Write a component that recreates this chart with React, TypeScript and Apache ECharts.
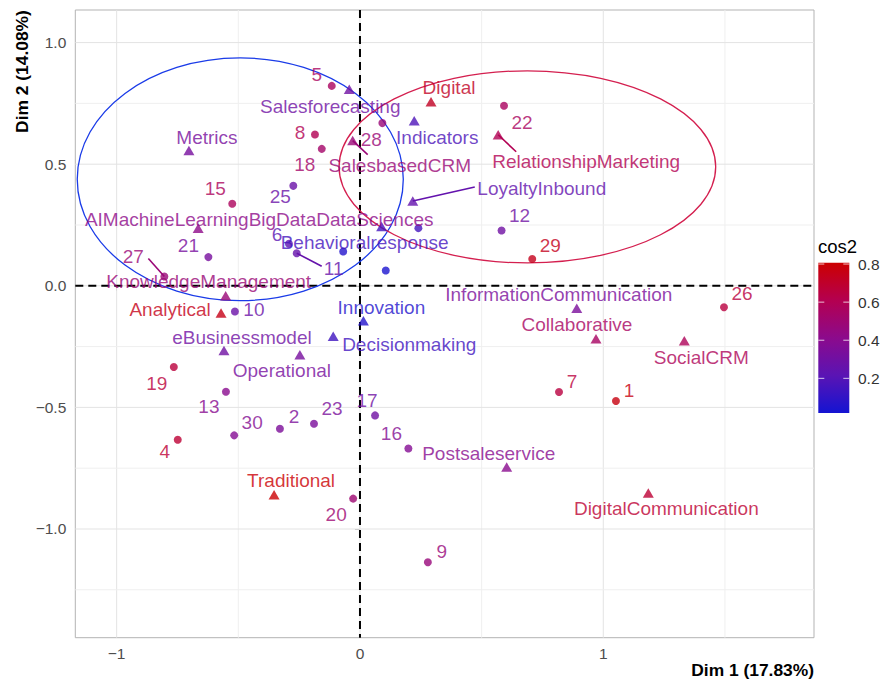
import React, { useEffect, useRef } from 'react';
import * as echarts from 'echarts';

// ---------- data ----------
const X_TICKS = [-1, 0, 1];
const Y_TICKS = [-1.0, -0.5, 0.0, 0.5, 1.0];
const X_GRID = [-1, -0.5, 0, 0.5, 1, 1.5];
const Y_GRID = [-1.25, -1, -0.75, -0.5, -0.25, 0, 0.25, 0.5, 0.75, 1];
const X_MIN = -1.17;
const X_MAX = 1.866;
const Y_MIN = -1.447;
const Y_MAX = 1.134;
const REF_X = [0];
const REF_Y = [0];

const indNames = ['1', '2', '3', '4', '5', '6', '7', '8', '9', '10', '11', '12', '13', '14', '15', '16', '17', '18', '19', '20', '21', '22', '23', '24', '25', '26', '27', '28', '29', '30'];
const indX = [1.052, -0.329, 0.240, -0.749, -0.116, -0.292, 0.818, -0.185, 0.279, -0.514, -0.260, 0.582, -0.551, -0.069, -0.525, 0.199, 0.062, -0.157, -0.765, -0.028, -0.623, 0.592, -0.189, 0.106, -0.274, 1.496, -0.804, 0.092, 0.708, -0.517];
const indY = [-0.474, -0.588, 0.237, -0.633, 0.822, 0.173, -0.437, 0.622, -1.137, -0.106, 0.134, 0.227, -0.436, 0.141, 0.337, -0.669, -0.533, 0.563, -0.334, -0.875, 0.118, 0.740, -0.567, 0.063, 0.411, -0.088, 0.038, 0.669, 0.110, -0.615];
const indCos2 = [0.77, 0.35, 0.15, 0.68, 0.56, 0.22, 0.65, 0.6, 0.47, 0.28, 0.26, 0.3, 0.4, 0.06, 0.57, 0.38, 0.3, 0.53, 0.66, 0.5, 0.33, 0.56, 0.34, 0.04, 0.28, 0.65, 0.48, 0.48, 0.74, 0.38];
const UNLABELED = ['3', '14', '24'];

const varNames = ['Salesforecasting', 'SalesbasedCRM', 'Metrics', 'Digital', 'Indicators', 'RelationshipMarketing', 'LoyaltyInbound', 'AIMachineLearningBigDataDataSciences', 'Behavioralresponse', 'KnowledgeManagement', 'Analytical', 'Innovation', 'Decisionmaking', 'eBusinessmodel', 'Operational', 'InformationCommunication', 'Collaborative', 'SocialCRM', 'Postsaleservice', 'Traditional', 'DigitalCommunication'];
const varX = [-0.044, -0.030, -0.703, 0.292, 0.223, 0.568, 0.217, -0.665, 0.089, -0.552, -0.571, 0.014, -0.110, -0.559, -0.247, 0.891, 0.970, 1.333, 0.603, -0.353, 1.185];
const varY = [0.808, 0.597, 0.556, 0.757, 0.679, 0.621, 0.349, 0.237, 0.244, -0.041, -0.112, -0.144, -0.208, -0.266, -0.284, -0.092, -0.218, -0.226, -0.745, -0.859, -0.852];
const varCos2 = [0.3, 0.48, 0.33, 0.72, 0.18, 0.6, 0.25, 0.42, 0.15, 0.48, 0.75, 0.06, 0.14, 0.3, 0.33, 0.34, 0.55, 0.58, 0.4, 0.8, 0.68];

const ellCx = [-0.492, 0.688];
const ellCy = [0.438, 0.489];
const ellRx = [0.670, 0.774];
const ellRy = [0.499, 0.395];

const COS2_MIN = 0.018;
const COS2_MAX = 0.807;
const LEGEND_TICKS = [0.2, 0.4, 0.6, 0.8];

// ---------- layout / style ----------
const FONT = '"Liberation Sans", Arial, Helvetica, sans-serif';
const COLORS = ['#1414d2', '#5a14b4', '#8c0a8c', '#b40050', '#cc0000'];
const ELL_COLORS = ['#1a3be8', '#d41f4f'];

const OFFSETS: Record<string, [number, number]> = {
  '1': [13, -11], '2': [14, -12], '4': [-13, 12], '5': [-15, -11], '6': [-12, -9], '7': [13, -11],
  '8': [-15, -2], '9': [14, -11], '10': [19, -2], '11': [37, 15], '12': [18, -15], '13': [-17, 15],
  '15': [-17, -15], '16': [-17, -15], '17': [-8, -15], '18': [-17, 16], '19': [-17, 16], '20': [-17, 16],
  '21': [-20, -12], '22': [18, 17], '23': [18, -15], '25': [-13, 11], '26': [18, -14], '27': [-31, -20],
  '28': [-11, 16], '29': [18, -14], '30': [18, -13],
  Salesforecasting: [-19, 17], SalesbasedCRM: [47, 25], Metrics: [18, -13], Digital: [18, -14],
  Indicators: [23, 17], RelationshipMarketing: [88, 27], LoyaltyInbound: [129, -12],
  AIMachineLearningBigDataDataSciences: [61, -9], Behavioralresponse: [-17, 16],
  KnowledgeManagement: [-17, -14], Analytical: [-51, -4], Innovation: [18, -13],
  Decisionmaking: [76, 8], eBusinessmodel: [18, -13], Operational: [-18, 16],
  InformationCommunication: [-18, -14], Collaborative: [-19, -14], SocialCRM: [17, 17],
  Postsaleservice: [-18, -13], Traditional: [17, -14], DigitalCommunication: [18, 16],
};

const LEADERS: Record<string, [number, number]> = {
  '27': [-16, -18], '11': [25, 13], SalesbasedCRM: [15, 14], RelationshipMarketing: [18, 17], LoyaltyInbound: [62, -14],
};

const fmtNum = (v: number, digits: number) => {
  const s = Math.abs(v).toFixed(digits);
  return v < -1e-9 ? '\u2212' + s : s;
};

export default function App() {
  const ref = useRef<HTMLDivElement>(null);
  useEffect(() => {
    if (!ref.current) return;
    const chart = echarts.init(ref.current, null, { renderer: 'svg' });

    const leaderNames = Object.keys(LEADERS);
    const leaderData = leaderNames.map((n) => {
      let i = indNames.indexOf(n);
      if (i >= 0) return [indX[i], indY[i], indCos2[i]];
      i = varNames.indexOf(n);
      return [varX[i], varY[i], varCos2[i]];
    });

    const makeLayout = (names: string[]) => (p: any) => {
      const off = OFFSETS[names[p.dataIndex]] || [0, 0];
      return {
        x: p.rect.x + p.rect.width / 2 + off[0],
        y: p.rect.y + p.rect.height / 2 + off[1],
        align: 'center',
        verticalAlign: 'middle',
      };
    };

    const labelBase = { show: true, formatter: '{b}', color: 'inherit', fontSize: 19, fontFamily: FONT };

    // legend geometry
    const barX = 818.3, barY = 262.7, barW = 31, barH = 150.3;
    const legY = (v: number) => barY + barH - ((v - COS2_MIN) / (COS2_MAX - COS2_MIN)) * barH;
    const gradStops = COLORS.map((c, i) => ({ offset: 1 - i / (COLORS.length - 1), color: c })).reverse();

    const legendEls: any[] = [
      { type: 'text', x: 818, y: 246, style: { text: 'cos2', font: `18.5px ${FONT}`, fill: '#000', align: 'left', verticalAlign: 'middle', textAlign: 'left', textVerticalAlign: 'middle' } },
      { type: 'rect', shape: { x: barX, y: barY, width: barW, height: barH }, style: { fill: new echarts.graphic.LinearGradient(0, 0, 0, 1, gradStops) } },
    ];
    LEGEND_TICKS.forEach((v) => {
      const y = legY(v);
      legendEls.push({ type: 'line', shape: { x1: barX, y1: y, x2: barX + 6, y2: y }, style: { stroke: 'rgba(255,255,255,0.75)', lineWidth: 1 } });
      legendEls.push({ type: 'line', shape: { x1: barX + barW - 6, y1: y, x2: barX + barW, y2: y }, style: { stroke: 'rgba(255,255,255,0.75)', lineWidth: 1 } });
      legendEls.push({ type: 'text', x: 858, y, style: { text: v.toFixed(1), font: `15.5px ${FONT}`, fill: '#333', align: 'left', verticalAlign: 'middle', textAlign: 'left', textVerticalAlign: 'middle' } });
    });

    const option: any = {
      animation: false,
      backgroundColor: '#fff',
      grid: { left: 75.3, top: 10, right: 68, bottom: 42.3, show: true, borderColor: '#b3b3b3', borderWidth: 1, backgroundColor: '#fff', containLabel: false, outerBoundsMode: 'none' },
      xAxis: {
        type: 'value', min: X_MIN, max: X_MAX,
        axisLine: { show: false },
        splitLine: { show: false },
        axisTick: { show: true, customValues: X_TICKS, length: 5, lineStyle: { color: '#b3b3b3' } },
        axisLabel: { customValues: X_TICKS, formatter: (v: number) => fmtNum(v, 0), color: '#4d4d4d', fontSize: 15.5, fontFamily: FONT, margin: 8 },
      },
      yAxis: {
        type: 'value', min: Y_MIN, max: Y_MAX,
        axisLine: { show: false },
        splitLine: { show: false },
        axisTick: { show: true, customValues: Y_TICKS, length: 5, lineStyle: { color: '#b3b3b3' } },
        axisLabel: { customValues: Y_TICKS, formatter: (v: number) => fmtNum(v, 1), color: '#4d4d4d', fontSize: 15.5, fontFamily: FONT, margin: 9 },
      },
      visualMap: {
        type: 'continuous', show: false, dimension: 2, min: COS2_MIN, max: COS2_MAX,
        seriesIndex: [4, 5, 6], inRange: { color: COLORS },
      },
      graphic: [
        { type: 'text', x: 814, y: 670, style: { text: 'Dim 1 (17.83%)', font: `bold 17.4px ${FONT}`, fill: '#000', align: 'right', verticalAlign: 'middle', textAlign: 'right', textVerticalAlign: 'middle' } },
        { type: 'text', x: 21.7, y: 71.5, rotation: Math.PI / 2, style: { text: 'Dim 2 (14.08%)', font: `bold 17.4px ${FONT}`, fill: '#000', align: 'center', verticalAlign: 'middle', textAlign: 'center', textVerticalAlign: 'middle' } },
        ...legendEls,
      ],
      series: [
        {
          type: 'custom', silent: true, z: 1, data: X_GRID.map((v) => [v, 0]),
          renderItem: (params: any, api: any) => {
            const cs = params.coordSys;
            const v = api.value(0);
            const p = api.coord([v, 0]);
            const major = Math.abs(v - Math.round(v)) < 1e-6;
            return { type: 'line', shape: { x1: p[0], y1: cs.y, x2: p[0], y2: cs.y + cs.height }, style: { stroke: major ? '#e3e3e3' : '#efefef', lineWidth: 1 } };
          },
        },
        {
          type: 'custom', silent: true, z: 1, data: Y_GRID.map((v) => [0, v]),
          renderItem: (params: any, api: any) => {
            const cs = params.coordSys;
            const v = api.value(1);
            const p = api.coord([0, v]);
            const major = Math.abs(v * 2 - Math.round(v * 2)) < 1e-6;
            return { type: 'line', shape: { x1: cs.x, y1: p[1], x2: cs.x + cs.width, y2: p[1] }, style: { stroke: major ? '#e3e3e3' : '#efefef', lineWidth: 1 } };
          },
        },
        {
          type: 'custom', silent: true, z: 2, data: REF_X.map((v, i) => [v, REF_Y[i]]),
          renderItem: (params: any, api: any) => {
            const cs = params.coordSys;
            const p = api.coord([api.value(0), api.value(1)]);
            const st = { stroke: '#000', lineWidth: 2, lineDash: [8, 5] };
            return {
              type: 'group', children: [
                { type: 'line', shape: { x1: p[0], y1: cs.y, x2: p[0], y2: cs.y + cs.height }, style: st },
                { type: 'line', shape: { x1: cs.x, y1: p[1], x2: cs.x + cs.width, y2: p[1] }, style: st },
              ],
            };
          },
        },
        {
          type: 'custom', silent: true, z: 3, data: ellCx.map((cx, i) => [cx, ellCy[i], ellRx[i], ellRy[i]]),
          renderItem: (params: any, api: any) => {
            const c = api.coord([api.value(0), api.value(1)]);
            const s = api.size([api.value(2), api.value(3)]);
            return { type: 'ellipse', shape: { cx: c[0], cy: c[1], rx: s[0], ry: s[1] }, style: { fill: 'none', stroke: ELL_COLORS[params.dataIndex], lineWidth: 1.3 } };
          },
        },
        {
          type: 'custom', silent: true, z: 4, data: leaderData,
          renderItem: (params: any, api: any) => {
            const p = api.coord([api.value(0), api.value(1)]);
            const off = LEADERS[leaderNames[params.dataIndex]];
            return { type: 'line', shape: { x1: p[0], y1: p[1], x2: p[0] + off[0], y2: p[1] + off[1] }, style: { stroke: api.visual('color'), lineWidth: 1.6 } };
          },
        },
        {
          type: 'scatter', silent: true, z: 5, symbol: 'circle', symbolSize: 8,
          data: indNames.map((n, i) => ({ name: n, value: [indX[i], indY[i], indCos2[i]], label: { show: UNLABELED.indexOf(n) < 0 } })),
          label: labelBase,
          labelLayout: makeLayout(indNames),
        },
        {
          type: 'scatter', silent: true, z: 6, symbol: 'triangle', symbolSize: [11, 9.5],
          data: varNames.map((n, i) => ({ name: n, value: [varX[i], varY[i], varCos2[i]] })),
          label: labelBase,
          labelLayout: makeLayout(varNames),
        },
      ],
    };
    chart.setOption(option);
    return () => chart.dispose();
  }, []);
  return <div ref={ref} style={{ position: 'fixed', left: 0, top: 0, width: 882, height: 680, background: '#fff' }} />;
}
